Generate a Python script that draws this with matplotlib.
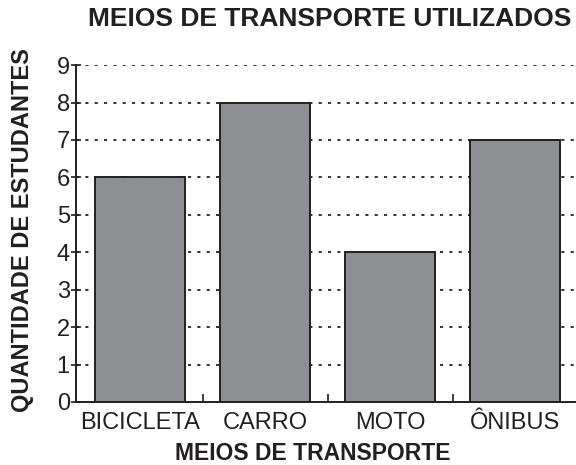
import matplotlib
matplotlib.use("Agg")
import matplotlib.pyplot as plt
from matplotlib.ticker import FixedLocator

categories = ["BICICLETA", "CARRO", "MOTO", "ÔNIBUS"]
students = [6, 8, 4, 7]
y_ticks = [0, 1, 2, 3, 4, 5, 6, 7, 8, 9]

plt.rcParams["font.family"] = ["Liberation Sans", "DejaVu Sans"]
ink = "#231f20"

fig = plt.figure(figsize=(5.76, 4.65), dpi=100)
ax = fig.add_axes([0.132, 0.1355, 0.868, 0.7245])

x = list(range(len(categories)))
ax.bar(x, students, width=0.72, color="#8e8f93", edgecolor=ink, linewidth=1.4, zorder=3)

ax.set_xlim(-0.512, 3.488)
ax.set_ylim(0, 9)
ax.set_yticks(y_ticks)
ax.set_xticks(x)
ax.set_xticklabels(categories)
ax.xaxis.set_minor_locator(FixedLocator([0.5, 1.5, 2.5]))

for yv in y_ticks[1:]:
    ax.axhline(yv, color="#333333", linewidth=1.4, linestyle=(0, (1.6, 3.2)), zorder=1)

for side in ["top", "right"]:
    ax.spines[side].set_visible(False)
for side in ["left", "bottom"]:
    ax.spines[side].set_color(ink)
    ax.spines[side].set_linewidth(1.4)
    ax.spines[side].set_zorder(4)

ax.tick_params(axis="y", direction="inout", length=7, width=1.2, color=ink,
               labelsize=17, labelcolor=ink, pad=1)
ax.tick_params(axis="x", which="major", length=0, labelsize=17, labelcolor=ink, pad=7)
ax.tick_params(axis="x", which="minor", direction="in", length=6, width=1.2, color=ink)

ax.set_xlabel("MEIOS DE TRANSPORTE", fontsize=16.5, fontweight="bold", color=ink)
ax.xaxis.set_label_coords(0.473, -0.153)
ax.xaxis.label.set_va("center")
ax.set_ylabel("QUANTIDADE DE ESTUDANTES", fontsize=17, fontweight="bold", color=ink)
ax.yaxis.set_label_coords(-0.108, 0.51)
ax.yaxis.label.set_va("center")
fig.text(0.572, 0.959, "MEIOS DE TRANSPORTE UTILIZADOS", fontsize=19, fontweight="bold",
         color=ink, ha="center", va="center")

fig.savefig("out.png", dpi=100)
